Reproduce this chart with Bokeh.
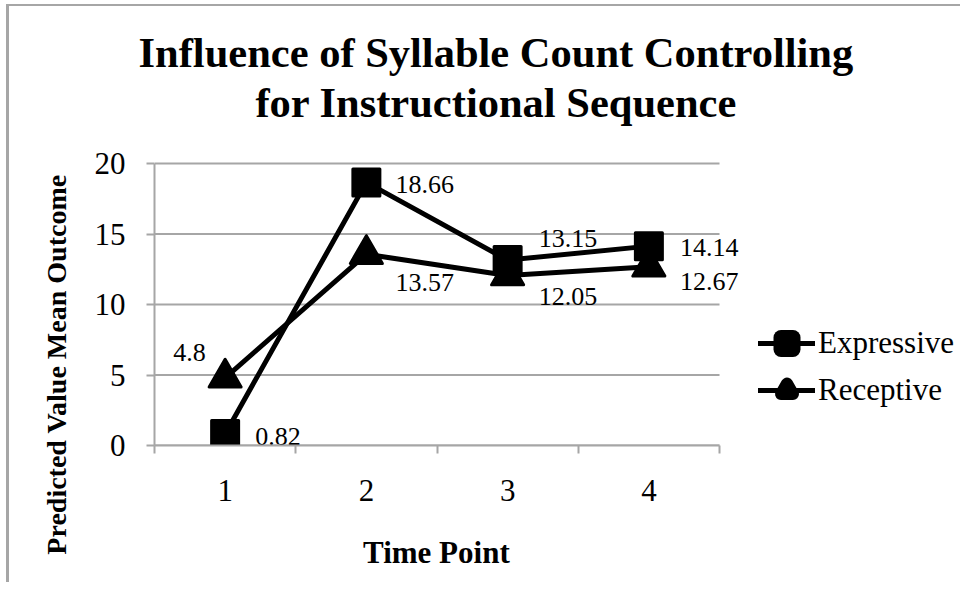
from bokeh.plotting import figure
from bokeh.models import Range1d, FixedTicker, Legend, LegendItem, ColumnDataSource
from bokeh.core.properties import value
from bokeh.embed import file_html
from bokeh.resources import INLINE

# ---- data ----
time_points = [1, 2, 3, 4]
tick_labels = ["1", "2", "3", "4"]
expressive = [0.82, 18.66, 13.15, 14.14]
receptive = [4.8, 13.57, 12.05, 12.67]
y_ticks = [0, 5, 10, 15, 20]
series_names = ["Expressive", "Receptive"]

title_lines = ["Influence of Syllable Count Controlling", "for Instructional Sequence"]
x_title = "Time Point"
y_title = "Predicted Value Mean Outcome"

# ---- style / geometry ----
FONT = "Liberation Serif"
GRAY = "#a6a6a6"
W, H = 960, 582
LEFT, TOP, BOTTOM, RIGHT = 154, 150, 137, 2
CAT_W, CAT_H = 565, 282          # pixel size of the category / value area
FRAME_W = W - LEFT - RIGHT
FRAME_H = H - TOP - BOTTOM
NBSP = "\u00a0"

boundaries = [t - 0.5 for t in time_points] + [time_points[-1] + 0.5]
x_end = boundaries[0] + (boundaries[-1] - boundaries[0]) * FRAME_W / CAT_W
y_end = y_ticks[0] + (y_ticks[-1] - y_ticks[0]) * FRAME_H / CAT_H

p = figure(width=W, height=H, output_backend="svg", toolbar_location=None,
           x_range=Range1d(boundaries[0], x_end), y_range=Range1d(y_ticks[0], y_end),
           min_border_left=LEFT, min_border_right=RIGHT,
           min_border_top=TOP, min_border_bottom=BOTTOM)
p.outline_line_color = None
p.background_fill_color = "white"
p.border_fill_alpha = 0
# thin grey chart-area border along the top and left edges
p.styles = {"background": (f"linear-gradient({GRAY}, {GRAY}) 7px 4px / {W - 7}px 2px no-repeat, "
                           f"linear-gradient({GRAY}, {GRAY}) 6px 4px / 3px {H - 4}px no-repeat, white")}

# title: two lines, the second indented so that both are centred on the chart
p.title.text = "\n".join([title_lines[0], NBSP * 11 + title_lines[1]])
p.title.align = "left"
p.title.offset = -16
p.title.text_font = FONT
p.title.text_font_size = "42.5px"
p.title.text_font_style = "bold"
p.title.text_color = "black"
p.title.text_line_height = 1.064
p.title.standoff = 48

# x axis: labels at category centres, tick marks at category boundaries
p.xaxis.ticker = FixedTicker(ticks=time_points, minor_ticks=boundaries)
p.xaxis.major_label_overrides = {t: l for t, l in zip(time_points, tick_labels)}
p.xaxis.bounds = (boundaries[0], boundaries[-1])
p.xaxis.major_tick_out = 0
p.xaxis.major_tick_in = 0
p.xaxis.minor_tick_out = 8
p.xaxis.minor_tick_in = 0
p.xaxis.minor_tick_line_color = GRAY
p.xaxis.minor_tick_line_width = 2
p.xaxis.axis_line_color = GRAY
p.xaxis.axis_line_width = 2
p.xaxis.major_label_text_font = FONT
p.xaxis.major_label_text_font_size = "31px"
p.xaxis.major_label_text_color = "black"
p.xaxis.major_label_standoff = 26
# centred under the category area (padding shifts it left of the frame centre)
p.xaxis.axis_label = x_title + NBSP * 31
p.xaxis.axis_label_text_font = FONT
p.xaxis.axis_label_text_font_size = "31px"
p.xaxis.axis_label_text_font_style = "bold"
p.xaxis.axis_label_text_color = "black"
p.xaxis.axis_label_standoff = 31
p.xgrid.visible = False

# y axis
yt = FixedTicker(ticks=y_ticks, minor_ticks=[])
p.yaxis.ticker = yt
p.yaxis.bounds = (y_ticks[0], y_ticks[-1])
p.yaxis.major_tick_out = 8
p.yaxis.major_tick_in = 0
p.yaxis.major_tick_line_color = GRAY
p.yaxis.major_tick_line_width = 2
p.yaxis.minor_tick_line_color = None
p.yaxis.axis_line_color = GRAY
p.yaxis.axis_line_width = 2
p.yaxis.major_label_text_font = FONT
p.yaxis.major_label_text_font_size = "31px"
p.yaxis.major_label_text_color = "black"
p.yaxis.major_label_standoff = 21
p.yaxis.axis_label = y_title + NBSP * 19
p.yaxis.axis_label_text_font = FONT
p.yaxis.axis_label_text_font_size = "28px"
p.yaxis.axis_label_text_font_style = "bold"
p.yaxis.axis_label_text_color = "black"
p.yaxis.axis_label_standoff = 20
p.ygrid.visible = False

# horizontal gridlines across the category area only
p.segment(x0=boundaries[0], x1=boundaries[-1], y0=y_ticks, y1=y_ticks,
          line_color=GRAY, line_width=2)

# series
le = p.line(time_points, expressive, line_width=5, line_color="black", line_join="round", line_cap="round")
se = p.scatter(time_points, expressive, marker="square", size=27, fill_color="black",
               line_color="black", line_width=3, line_join="round")
lr = p.line(time_points, receptive, line_width=5, line_color="black", line_join="round", line_cap="round")
sr = p.scatter(time_points, receptive, marker="triangle", size=32, fill_color="black",
               line_color="black", line_width=3, line_join="round")

# legend-only marker renderers (hidden on the chart), drawn with a heavy outline
# so that the legend symbols reach the size of the chart markers
le_m = p.scatter(time_points, expressive, marker="square", fill_color="black", line_color="black",
                 line_width=15, line_join="round", visible=False)
lr_m = p.scatter(time_points, receptive, marker="triangle", fill_color="black", line_color="black",
                 line_width=12, line_join="round", visible=False)

# data labels
lab_dx = [30, 29, 31, 31, -52, 29, 31, 31]
lab_dy = [3, 2, -22, 1, -25, 28, 21, 15]
lab_src = ColumnDataSource(dict(
    x=time_points + time_points,
    y=expressive + receptive,
    t=[str(v) for v in expressive + receptive],
    dx=lab_dx, dy=lab_dy,
))
p.text(x="x", y="y", text="t", x_offset="dx", y_offset="dy", source=lab_src,
       text_font=value(FONT), text_font_size="26px", text_color="black",
       text_align="left", text_baseline="middle")

# legend
legend = Legend(items=[LegendItem(label=series_names[0], renderers=[le, le_m]),
                       LegendItem(label=series_names[1], renderers=[lr, lr_m])],
                location=(604, 37), orientation="vertical", click_policy="none")
legend.label_text_font = FONT
legend.label_text_font_size = "31px"
legend.label_text_color = "black"
legend.glyph_width = 57
legend.glyph_height = 30
legend.label_height = 30
legend.spacing = 11
legend.padding = 0
legend.margin = 0
legend.label_standoff = 3
legend.border_line_color = None
legend.background_fill_alpha = 0
p.add_layout(legend, "center")

open("out.html", "w").write(file_html(p, INLINE))
